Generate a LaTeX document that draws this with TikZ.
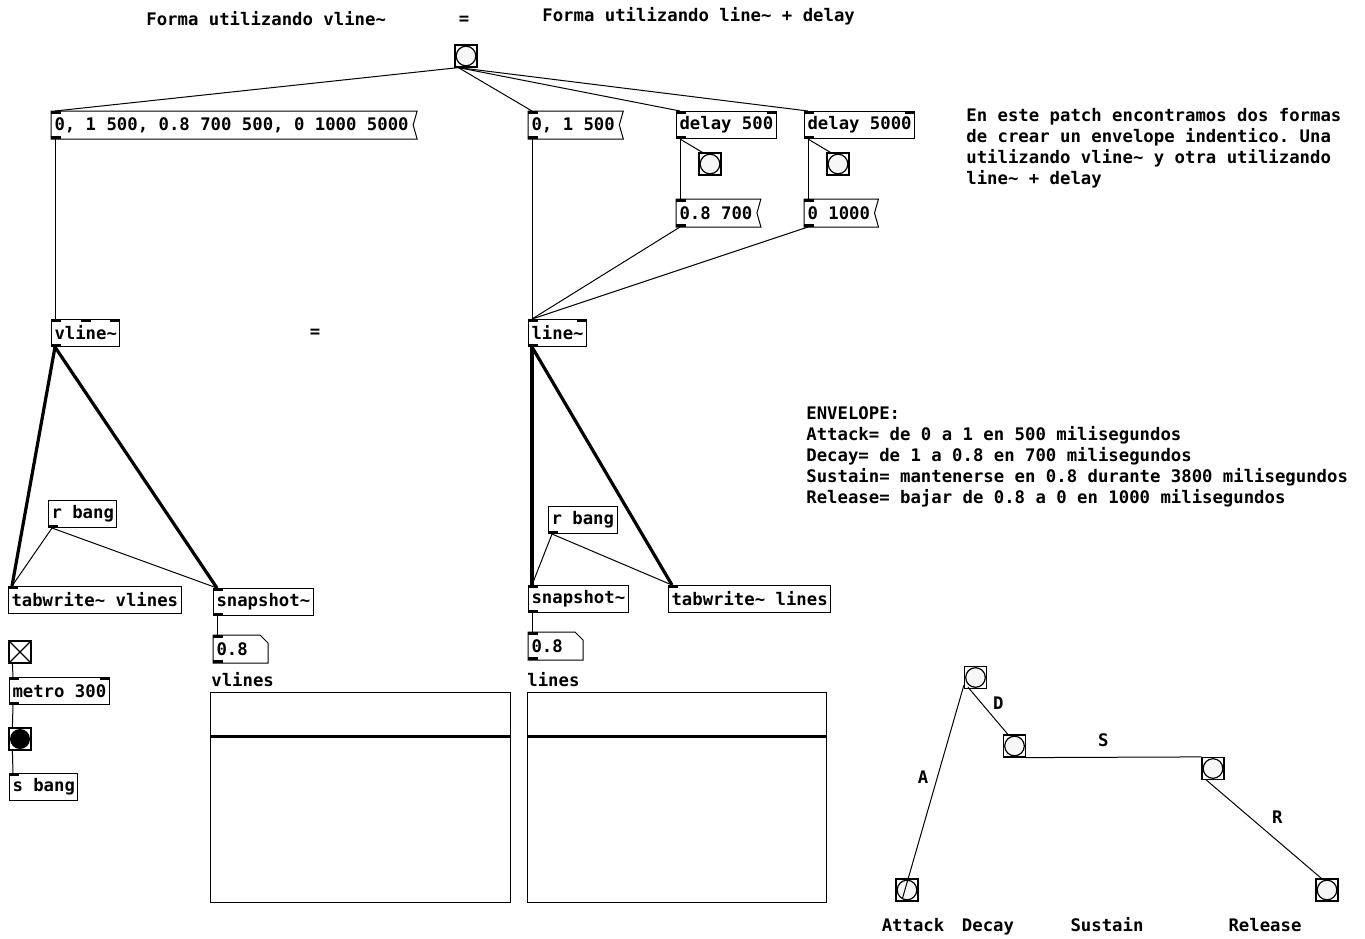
\documentclass[tikz,border=0pt]{standalone}
\usepackage{fontspec}
\setmonofont{DejaVu Sans Mono}
\usetikzlibrary{positioning}

\newcommand{\pdtilde}{\textasciitilde}

\begin{document}
\begin{tikzpicture}[
    x=0.5pt, y=-0.5pt,
    pdfont/.style={font=\fontsize{8.65}{10.5}\selectfont\ttfamily\bfseries},
    obj/.style={pdfont, draw, rectangle, anchor=north west, minimum height=13.5pt,
                inner xsep=1.5pt, inner ysep=0pt, line width=0.5pt},
    msg/.style={obj, draw=none},
    numbox/.style={msg, text width=24pt, align=left},
    bng/.style={draw, rectangle, minimum size=11pt, inner sep=0pt, line width=0.6pt,
                path picture={\draw[line width=0.6pt, fill=white!97!black]
                  (path picture bounding box.center) circle (4.9pt);}},
    bngon/.style={bng, path picture={\fill
                  (path picture bounding box.center) circle (5pt);}},
    tgl/.style={draw, rectangle, minimum size=11pt, inner sep=0pt, line width=0.6pt,
                path picture={\draw (path picture bounding box.north west) --
                  (path picture bounding box.south east)
                  (path picture bounding box.north east) --
                  (path picture bounding box.south west);}},
    note/.style={pdfont, align=left, inner sep=0pt},
    ctl/.style={line width=0.5pt},
    sig/.style={line width=1.6pt}
]
\useasboundingbox (0,0) rectangle (1365,938);

% titles
\node[note, anchor=west] (tit1) at (146,19) {Forma utilizando vline\pdtilde};
\node[note] (eq1) at (464,20) {=};
\node[note, anchor=west] (tit2) at (542,16) {Forma utilizando line\pdtilde{} + delay};
\node[note] (eq2) at (315,333) {=};

% top part
\node[bng] (bangTop) at (466,56) {};
\node[msg] (m1) at (51,111) {0, 1 500, 0.8 700 500, 0 1000 5000};
\node[msg] (m2) at (528,111) {0, 1 500};
\node[obj] (dly1) at (676,111) {delay 500};
\node[obj] (dly2) at (804,111) {delay 5000};
\node[bng] (bD1) at (710,164) {};
\node[bng] (bD2) at (838,164) {};
\node[msg] (mDec) at (676,199) {0.8 700};
\node[msg] (mRel) at (804,199) {0 1000};
\node[obj] (vl) at (51,319) {vline\pdtilde};
\node[obj] (ln) at (528,319) {line\pdtilde};

% vline side
\node[obj] (rbV) at (48,500) {r bang};
\node[obj] (twV) at (8,586) {tabwrite\pdtilde{} vlines};
\node[obj] (snV) at (213,588) {snapshot\pdtilde};
\node[numbox] (nV) at (213,635) {0.8};

% line side
\node[obj] (rbL) at (548,506) {r bang};
\node[obj] (snL) at (528,585) {snapshot\pdtilde};
\node[obj] (twL) at (668,585) {tabwrite\pdtilde{} lines};
\node[numbox] (nL) at (528,632) {0.8};

% metro
\node[tgl] (tgl) at (20,652) {};
\node[obj] (metro) at (9,677) {metro 300};
\node[bngon] (bOn) at (20,739) {};
\node[obj] (sb) at (9,773) {s bang};

% arrays
\node[note, anchor=west] (lbV) at (211,680) {vlines};
\node[note, anchor=west] (lbL) at (527,680) {lines};
\node[draw, line width=0.6pt, anchor=north west, minimum width=150pt,
      minimum height=105pt, inner sep=0pt] (arrV) at (210,692) {};
\node[draw, line width=0.6pt, anchor=north west, minimum width=149.5pt,
      minimum height=105pt, inner sep=0pt] (arrL) at (527,692) {};
\draw[line width=1.5pt] ([yshift=-22pt]arrV.north west) -- ([yshift=-22pt]arrV.north east);
\draw[line width=1.5pt] ([yshift=-22pt]arrL.north west) -- ([yshift=-22pt]arrL.north east);

% comments
\node[note, anchor=north west] (c1) at (966,108)
  {En este patch encontramos dos formas\\de crear un envelope indentico. Una\\utilizando vline\pdtilde{} y otra utilizando\\line\pdtilde{} + delay};
\node[note, anchor=north west] (c2) at (806,406)
  {ENVELOPE:\\Attack= de 0 a 1 en 500 milisegundos\\Decay= de 1 a 0.8 en 700 milisegundos\\Sustain= mantenerse en 0.8 durante 3800 milisegundos\\Release= bajar de 0.8 a 0 en 1000 milisegundos};

% message flags and number boxes
\foreach \m in {m1,m2,mDec,mRel}
  \draw[line width=0.5pt] (\m.north west) -- ([xshift=2.5pt]\m.north east)
    -- ([xshift=0.5pt]\m.east) -- ([xshift=2.5pt]\m.south east) -- (\m.south west) -- cycle;
\foreach \n in {nV,nL}
  \draw[line width=0.5pt] (\n.north west) -- ([xshift=-4pt]\n.north east)
    -- ([yshift=-4pt]\n.north east) -- (\n.south east) -- (\n.south west) -- cycle;

% inlets and outlets
\foreach \n in {m1,m2,dly1,dly2,mDec,mRel,vl,ln,twV,snV,nV,snL,twL,nL,metro,sb}
  \fill (\n.north west) rectangle ++(10,3);
\foreach \n in {dly1,dly2,vl,ln,metro}
  \fill (\n.north east) rectangle ++(-10,3);
\fill ([xshift=-2.5pt]vl.north) rectangle ++(10,3);
\foreach \n in {m1,m2,dly1,dly2,mDec,mRel,vl,ln,rbV,snV,nV,rbL,snL,nL,metro}
  \fill (\n.south west) rectangle ++(10,-3);

% connections
\foreach \t in {m1,m2,dly1,dly2}
  \draw[ctl] ([xshift=2pt]bangTop.south west) -- ([xshift=2pt]\t.north west);
\draw[ctl] ([xshift=2pt]m1.south west) -- ([xshift=2pt]vl.north west);
\draw[ctl] ([xshift=2pt]m2.south west) -- ([xshift=2pt]ln.north west);
\draw[ctl] ([xshift=2pt]dly1.south west) -- ([xshift=2pt]bD1.north west);
\draw[ctl] ([xshift=2pt]dly1.south west) -- ([xshift=2pt]mDec.north west);
\draw[ctl] ([xshift=2pt]dly2.south west) -- ([xshift=2pt]bD2.north west);
\draw[ctl] ([xshift=2pt]dly2.south west) -- ([xshift=2pt]mRel.north west);
\draw[ctl] ([xshift=2pt]mDec.south west) -- ([xshift=2pt]ln.north west);
\draw[ctl] ([xshift=2pt]mRel.south west) -- ([xshift=2pt]ln.north west);

\draw[sig] ([xshift=2pt]vl.south west) -- ([xshift=2pt]twV.north west);
\draw[sig] ([xshift=2pt]vl.south west) -- ([xshift=2pt]snV.north west);
\draw[ctl] ([xshift=2pt]rbV.south west) -- ([xshift=2pt]twV.north west);
\draw[ctl] ([xshift=2pt]rbV.south west) -- ([xshift=2pt]snV.north west);
\draw[ctl] ([xshift=2pt]snV.south west) -- ([xshift=2pt]nV.north west);

\draw[sig] ([xshift=2pt]ln.south west) -- ([xshift=2pt]snL.north west);
\draw[sig] ([xshift=2pt]ln.south west) -- ([xshift=2pt]twL.north west);
\draw[ctl] ([xshift=2pt]rbL.south west) -- ([xshift=2pt]snL.north west);
\draw[ctl] ([xshift=2pt]rbL.south west) -- ([xshift=2pt]twL.north west);
\draw[ctl] ([xshift=2pt]snL.south west) -- ([xshift=2pt]nL.north west);

\draw[ctl] ([xshift=2pt]tgl.south west) -- ([xshift=2pt]metro.north west);
\draw[ctl] ([xshift=2pt]metro.south west) -- ([xshift=2pt]bOn.north west);
\draw[ctl] ([xshift=2pt]bOn.south west) -- ([xshift=2pt]sb.north west);

% envelope sketch
\node[bng] (e1) at (907,890) {};
\node[bng] (e2) at (975.5,677.5) {};
\node[bng] (e3) at (1014.5,746) {};
\node[bng] (e4) at (1213,768.5) {};
\node[bng] (e5) at (1327,890) {};
\draw[ctl] ([xshift=3.5pt,yshift=1.5pt]e1.south west) --
  node[pdfont, pos=0.57, left=1pt] {A} ([yshift=2pt]e2.south west);
\draw[ctl] ([xshift=2pt,yshift=1pt]e2.south west) --
  node[pdfont, pos=0.35, right=2pt] {D} ([xshift=2.5pt]e3.north west);
\draw[ctl] (e3.south east) -- node[pdfont, pos=0.44, above=1.5pt] {S} (e4.north west);
\draw[ctl] ([xshift=2.5pt]e4.south west) --
  node[pdfont, pos=0.51, above right=0pt] {R} ([xshift=3pt]e5.north west);
\node[note, anchor=base] (lAtk) at (913,931) {Attack};
\node[note, anchor=base] (lDec) at (988,931) {Decay};
\node[note, anchor=base] (lSus) at (1107,931) {Sustain};
\node[note, anchor=base] (lRel) at (1265,931) {Release};
\end{tikzpicture}
\end{document}
